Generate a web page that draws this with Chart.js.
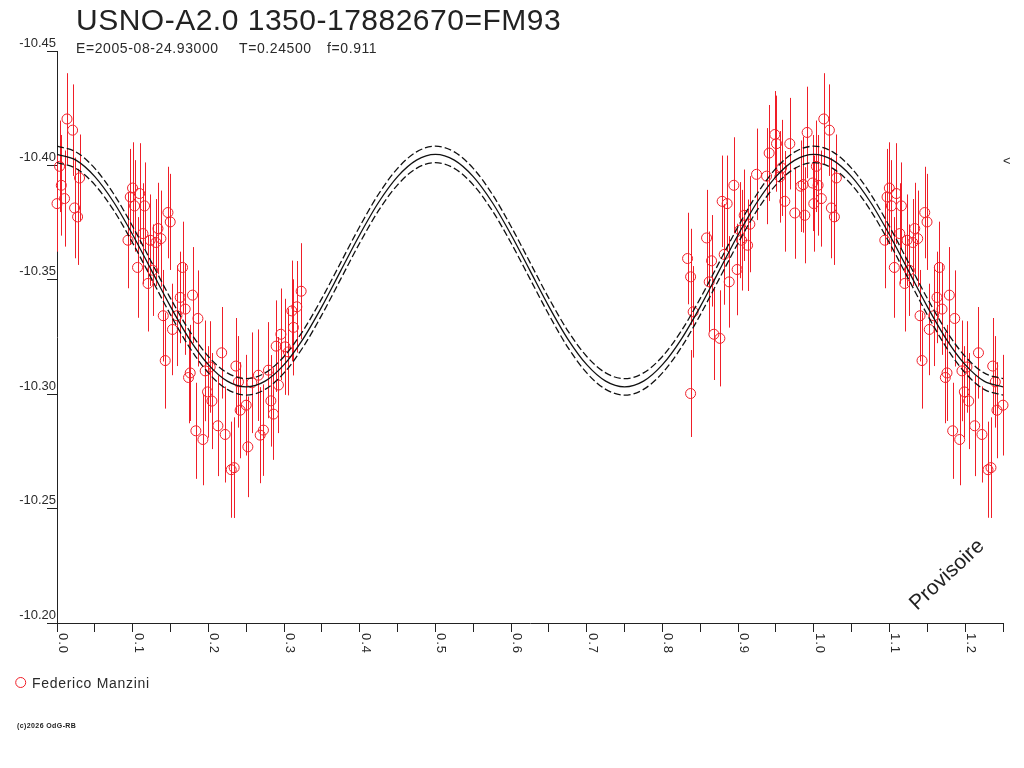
<!DOCTYPE html>
<html>
<head>
<meta charset="utf-8">
<script src="https://cdn.jsdelivr.net/npm/chart.js@4.4.0/dist/chart.umd.min.js"></script>
<style>
html, body { margin: 0; padding: 0; background: #fff; }
#chartPhase { display: block; }
</style>
</head>
<body>
<canvas id="chartPhase" width="1024" height="768"></canvas>
<script>
var titre = "USNO-A2.0 1350-17882670=FM93";
var sousTitre = ["E=2005-08-24.93000", "T=0.24500", "f=0.911"];
var observateur = "Federico Manzini";
var copyright = "(c)2026 OdG-RB";
var filigrane = "Provisoire";

// axes
var xTickLabels = ["0.0", "0.1", "0.2", "0.3", "0.4", "0.5", "0.6", "0.7", "0.8", "0.9", "1.0", "1.1", "1.2"];
var xTicks = [0, 0.05, 0.1, 0.15, 0.2, 0.25, 0.3, 0.35, 0.4, 0.45, 0.5, 0.55, 0.6, 0.65, 0.7, 0.75, 0.8, 0.85, 0.9, 0.95, 1.0, 1.05, 1.1, 1.15, 1.2, 1.25];
var yTicks = [-10.45, -10.40, -10.35, -10.30, -10.25, -10.20];
var phaseMax = 1.25;

// observations (phase, magnitude, erreur)
var phases = [
    0.000, 0.0034, 0.0057, 0.0100, 0.0132, 0.0206, 0.0298, 0.0232, 0.0272,
    0.0998, 0.0968, 0.1091, 0.1025, 0.1157, 0.1466, 0.1496, 0.1334, 0.1136, 0.0938,
    0.1232, 0.1307, 0.1373, 0.1064, 0.1262, 0.1659, 0.1202, 0.1628, 0.1791, 0.1694,
    0.1585, 0.1404, 0.1862, 0.1526, 0.1430, 0.2176, 0.2364, 0.2024, 0.1958, 0.1760,
    0.1738, 0.3226, 0.3169, 0.3103, 0.2958, 0.3124, 0.2896, 0.3015, 0.3058, 0.2794,
    0.2662, 0.2575, 0.2398, 0.2926, 0.1989, 0.2047, 0.2826, 0.2500, 0.2420, 0.2860,
    0.1835, 0.1928, 0.2126, 0.2222, 0.2728, 0.2685, 0.2522, 0.2302, 0.2341,
    0.8332, 0.8372, 0.8406, 0.8372, 0.8583, 0.8649, 0.8618, 0.8680, 0.8759, 0.8789,
    0.8855, 0.8816, 0.8882, 0.8944, 0.8987, 0.9023, 0.9080, 0.9155, 0.9125, 0.9045,
    0.9243, 0.9376, 0.9485, 0.9507, 0.9683, 0.9410, 0.9551, 0.9574, 0.9828, 0.9859,
    0.9912, 0.9983, 0.9617, 0.9749, 0.9881
];
var magnitudes = [
    -10.3833, -10.3996, -10.3913, -10.3855, -10.4203, -10.4154, -10.3945, -10.3814, -10.3775,
    -10.3901, -10.3862, -10.3877, -10.3823, -10.3823, -10.3794, -10.3753, -10.3724, -10.3702, -10.3673,
    -10.3673, -10.3663, -10.3680, -10.3554, -10.3542, -10.3554, -10.3484, -10.3423, -10.3433, -10.3372,
    -10.3343, -10.3343, -10.3331, -10.3283, -10.3147, -10.3181, -10.3123, -10.3119, -10.3102, -10.3093,
    -10.3073, -10.3450, -10.3382, -10.3364, -10.3262, -10.3292, -10.3210, -10.3207, -10.3185, -10.3105,
    -10.3083, -10.3050, -10.3054, -10.3040, -10.3010, -10.2970, -10.2971, -10.2952, -10.2930, -10.2913,
    -10.2840, -10.2802, -10.2862, -10.2824, -10.2843, -10.2821, -10.2770, -10.2670, -10.2679,
    -10.3593, -10.3513, -10.3360, -10.3003, -10.3683, -10.3583, -10.3491, -10.3262, -10.3244, -10.3843,
    -10.3833, -10.3611, -10.3491, -10.3913, -10.3545, -10.3717, -10.3782, -10.3743, -10.3651, -10.3673,
    -10.3961, -10.3953, -10.4135, -10.4095, -10.4095, -10.4054, -10.3950, -10.3989, -10.3909, -10.3916,
    -10.4144, -10.3923, -10.3843, -10.3792, -10.3782
];
var erreurs = [
    0.021, 0.020, 0.022, 0.021, 0.020, 0.020, 0.019, 0.022, 0.021,
    0.020, 0.021, 0.022, 0.020, 0.019, 0.020, 0.021, 0.020, 0.022, 0.021,
    0.020, 0.019, 0.021, 0.022, 0.020, 0.020, 0.021, 0.020, 0.021, 0.020,
    0.022, 0.020, 0.021, 0.020, 0.021, 0.020, 0.021, 0.020, 0.022, 0.021,
    0.020, 0.021, 0.020, 0.022, 0.020, 0.021, 0.020, 0.021, 0.019, 0.021,
    0.020, 0.022, 0.020, 0.021, 0.020, 0.021, 0.020, 0.022, 0.021, 0.020,
    0.021, 0.020, 0.022, 0.021, 0.020, 0.021, 0.022, 0.021, 0.022,
    0.020, 0.021, 0.020, 0.019, 0.021, 0.020, 0.022, 0.020, 0.021, 0.020,
    0.021, 0.022, 0.020, 0.021, 0.020, 0.021, 0.020, 0.021, 0.020, 0.022,
    0.020, 0.021, 0.019, 0.021, 0.020, 0.021, 0.020, 0.021, 0.020, 0.021,
    0.020, 0.021, 0.022, 0.020, 0.021
];

// courbe ajustee, lue tous les 0.025 en phase de 0 a 1.25
var pasCourbe = 0.025;
var courbe = [
    -10.4048, -10.4023, -10.3951, -10.3839, -10.3697, -10.3540, -10.3383, -10.3241, -10.3129, -10.3057,
    -10.3032, -10.3057, -10.3129, -10.3241, -10.3383, -10.3540, -10.3697, -10.3839, -10.3951, -10.4023,
    -10.4048, -10.4023, -10.3951, -10.3839, -10.3697, -10.3540, -10.3383, -10.3241, -10.3129, -10.3057,
    -10.3032, -10.3057, -10.3129, -10.3241, -10.3383, -10.3540, -10.3697, -10.3839, -10.3951, -10.4023,
    -10.4048, -10.4023, -10.3951, -10.3839, -10.3697, -10.3540, -10.3383, -10.3241, -10.3129, -10.3057,
    -10.3032
];
var largeurBande = 0.0036;

var rouge = "rgb(240, 30, 40)";
var gris = "#2a2a2a";

var points = [];
for (var i = 0; i < phases.length; i++) {
    points.push({ x: phases[i], y: magnitudes[i], err: erreurs[i] });
    if (phases[i] + 1 <= phaseMax)
        points.push({ x: phases[i] + 1, y: magnitudes[i], err: erreurs[i] });
}

var ligneMilieu = [], ligneHaut = [], ligneBas = [];
for (var k = 0; k < courbe.length; k++) {
    var ph = k * pasCourbe;
    ligneMilieu.push({ x: ph, y: courbe[k] });
    ligneHaut.push({ x: ph, y: courbe[k] - largeurBande });
    ligneBas.push({ x: ph, y: courbe[k] + largeurBande });
}

function texte(ctx, t, x, y, font, couleur, espacement) {
    ctx.font = font;
    ctx.fillStyle = couleur;
    ctx.letterSpacing = espacement || "0px";
    ctx.fillText(t, x, y);
    ctx.letterSpacing = "0px";
}

var decorPlugin = {
    id: 'decor',
    beforeDatasetsDraw: function (chart) {
        // barres d'erreur
        var ctx = chart.ctx, sx = chart.scales.x, sy = chart.scales.y;
        ctx.save();
        ctx.setLineDash([]);
        ctx.strokeStyle = rouge;
        ctx.lineWidth = 1;
        ctx.beginPath();
        for (var i = 0; i < points.length; i++) {
            var px = Math.round(sx.getPixelForValue(points[i].x)) + 0.5;
            ctx.moveTo(px, sy.getPixelForValue(points[i].y - points[i].err));
            ctx.lineTo(px, sy.getPixelForValue(points[i].y + points[i].err));
        }
        ctx.stroke();
        ctx.restore();
    },
    afterDraw: function (chart) {
        var ctx = chart.ctx, sx = chart.scales.x;
        ctx.save();
        ctx.textAlign = "left";
        ctx.textBaseline = "alphabetic";
        texte(ctx, titre, 76, 30, "30px 'Liberation Sans', Arial, sans-serif", "#222", "0.5px");
        texte(ctx, sousTitre[0], 76, 53, "14px 'Liberation Sans', Arial, sans-serif", gris, "0.6px");
        texte(ctx, sousTitre[1], 239, 53, "14px 'Liberation Sans', Arial, sans-serif", gris, "0.6px");
        texte(ctx, sousTitre[2], 327, 53, "14px 'Liberation Sans', Arial, sans-serif", gris, "0.6px");

        // etiquettes de l'axe des phases, tournees
        for (var i = 0; i < xTickLabels.length; i++) {
            var px = sx.getPixelForValue(parseFloat(xTickLabels[i]));
            ctx.save();
            ctx.translate(px + 2, 633);
            ctx.rotate(Math.PI / 2);
            texte(ctx, xTickLabels[i], 0, 0, "13px 'Liberation Sans', Arial, sans-serif", gris, "1px");
            ctx.restore();
        }

        // legende
        ctx.strokeStyle = rouge;
        ctx.lineWidth = 1;
        ctx.beginPath();
        ctx.arc(20.7, 682.5, 5, 0, Math.PI * 2);
        ctx.stroke();
        texte(ctx, observateur, 32, 687.5, "14px 'Liberation Sans', Arial, sans-serif", gris, "0.7px");
        texte(ctx, copyright, 17, 728, "bold 7px 'Liberation Sans', Arial, sans-serif", "#222", "0.4px");
        texte(ctx, "<", 1003, 165, "13px 'Liberation Sans', Arial, sans-serif", gris, "0px");

        ctx.save();
        ctx.translate(917, 611);
        ctx.rotate(-43 * Math.PI / 180);
        texte(ctx, filigrane, 0, 0, "21px 'Liberation Sans', Arial, sans-serif", "#222", "0px");
        ctx.restore();
        ctx.restore();
    }
};

var ctxPhase = document.getElementById('chartPhase').getContext('2d');
var chartPhase = new Chart(ctxPhase, {
    type: 'scatter',
    data: {
        datasets: [{
            type: 'line',
            label: 'courbe',
            data: ligneMilieu,
            borderColor: '#111',
            borderWidth: 1.3,
            pointRadius: 0,
            fill: false,
            cubicInterpolationMode: 'monotone'
        }, {
            type: 'line',
            label: 'courbe +',
            data: ligneHaut,
            borderColor: '#111',
            borderWidth: 1.3,
            borderDash: [7, 3],
            pointRadius: 0,
            fill: false,
            cubicInterpolationMode: 'monotone'
        }, {
            type: 'line',
            label: 'courbe -',
            data: ligneBas,
            borderColor: '#111',
            borderWidth: 1.3,
            borderDash: [7, 3],
            pointRadius: 0,
            fill: false,
            cubicInterpolationMode: 'monotone'
        }, {
            label: observateur,
            data: points,
            pointStyle: 'circle',
            pointRadius: 5,
            pointBorderWidth: 1,
            borderColor: rouge,
            backgroundColor: 'rgba(0,0,0,0)',
            clip: false
        }]
    },
    options: {
        responsive: false,
        animation: false,
        devicePixelRatio: 1,
        layout: { padding: { top: 51, right: 21, left: 0, bottom: 0 } },
        plugins: {
            legend: { display: false },
            tooltip: { enabled: false },
            title: { display: false }
        },
        scales: {
            x: {
                type: 'linear',
                min: 0,
                max: phaseMax,
                afterBuildTicks: function (scale) {
                    scale.ticks = xTicks.map(function (v) { return { value: v }; });
                },
                afterFit: function (scale) { scale.height = 145; },
                ticks: { display: false },
                grid: { drawOnChartArea: false, drawTicks: true, tickLength: 9, color: '#222', lineWidth: 1 },
                border: { color: '#222', width: 1 }
            },
            y: {
                type: 'linear',
                reverse: true,
                min: -10.45,
                max: -10.20,
                afterBuildTicks: function (scale) {
                    scale.ticks = yTicks.map(function (v) { return { value: v }; });
                },
                afterFit: function (scale) { scale.width = 57; },
                ticks: {
                    callback: function (v) { return v.toFixed(2); },
                    padding: -9,
                    labelOffset: -8,
                    color: gris,
                    font: { family: "'Liberation Sans', Arial, sans-serif", size: 13 }
                },
                grid: { drawOnChartArea: false, drawTicks: true, tickLength: 10, color: '#222', lineWidth: 1 },
                border: { color: '#222', width: 1 }
            }
        }
    },
    plugins: [decorPlugin]
});
</script>
</body>
</html>
